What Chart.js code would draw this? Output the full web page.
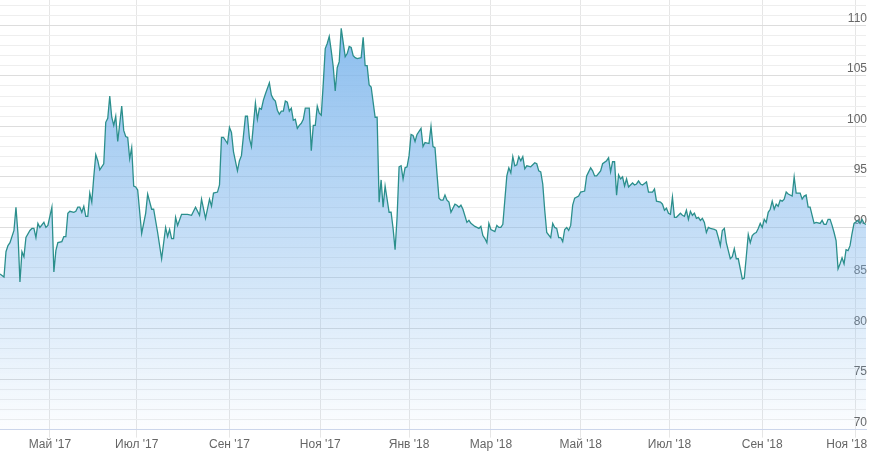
<!DOCTYPE html>
<html>
<head>
<meta charset="utf-8">
<script src="https://cdn.jsdelivr.net/npm/chart.js@4.4.1/dist/chart.umd.min.js"></script>
<style>
  html, body { margin: 0; padding: 0; background: #ffffff; }
  #wrap { width: 881px; height: 454px; position: relative; }
</style>
</head>
<body>
<div id="wrap"><canvas id="c"></canvas></div>
<script>
// trading-session index since the start of the window
const sessions = [0,2,3,4,5,7,8,9,10,11,12,13,15,16,17,18,19,20,22,23,24,26,27,28,29,31,32,33,34,35,37,38,39,40,41,42,43,44,45,46,47,48,49,50,52,53,54,55,56,57,58,59,61,62,63,64,65,66,67,68,69,71,73,74,76,77,79,81,83,84,85,86,87,88,89,91,94,96,98,100,101,103,105,106,107,109,110,111,112,114,115,116,117,119,120,121,123,124,125,126,128,129,130,131,132,133,135,136,137,138,139,140,141,142,143,144,145,146,147,148,149,150,151,152,153,155,156,157,158,159,160,161,162,163,164,165,166,167,168,169,170,171,173,174,175,176,177,178,179,181,182,183,184,185,186,188,189,190,191,192,193,195,196,197,198,199,200,201,202,203,204,205,206,207,208,209,211,212,213,215,216,217,218,219,220,221,222,223,224,225,226,228,229,230,231,232,234,235,236,238,239,240,241,242,243,244,245,246,248,249,250,251,252,254,255,256,257,258,259,260,261,262,263,264,266,268,269,270,271,272,273,274,276,277,278,279,280,281,282,283,284,285,286,287,288,290,291,293,294,295,296,297,298,299,301,302,304,305,306,307,308,309,310,311,312,313,314,315,317,318,319,320,321,322,324,325,327,328,329,331,332,333,334,335,336,337,338,339,341,342,343,344,345,346,347,348,349,350,351,352,353,354,355,356,358,359,360,361,362,363,364,365,366,367,368,369,370,372,373,374,375,376,377,378,379,380,381,382,383,384,385,386,387,388,389,390,391,392,393,394,395,397,398,399,400,401,402,403,404,405,406,407,408,409,411,412,413,414,415,416,417,418,419,420,421,422,423,424,425,426,427,428,430,431,432,433,434];
const prices = [85.4,85.1,87.6,88.2,88.5,89.7,92.0,89.4,84.6,87.6,87.1,89.0,89.7,89.9,89.9,89.0,90.4,90.0,90.5,90.0,90.2,92.0,85.6,87.7,88.5,88.6,89.1,89.1,91.4,91.6,91.5,91.6,92.0,92.0,91.5,92.1,91.1,91.1,93.4,92.5,95.0,97.2,96.6,95.7,96.3,100.4,100.8,103.0,100.9,100.1,101.0,98.5,102.0,99.6,99.0,98.9,96.8,97.9,94.1,94.0,93.7,89.4,91.4,93.3,91.8,91.8,89.5,86.9,90.0,89.1,89.8,88.9,88.9,91.0,90.2,91.3,91.3,91.2,92.0,91.2,92.8,90.9,92.8,92.1,93.4,93.5,94.2,98.9,98.9,98.3,99.9,99.4,97.5,95.6,96.6,97.1,101.0,101.0,98.8,98.0,102.3,100.7,101.8,101.7,102.6,103.2,104.3,103.1,102.7,102.5,101.6,101.2,101.5,101.5,102.5,102.4,101.5,101.8,100.6,100.7,99.8,100.1,100.3,100.7,101.8,101.8,97.6,100.1,100.1,102.0,101.3,101.1,104.2,107.7,108.2,108.9,107.5,105.9,103.5,105.8,106.4,109.7,106.9,107.2,107.9,107.8,107.0,106.8,106.7,106.8,108.8,106.0,106.0,104.1,103.9,100.9,100.9,92.5,94.7,92.0,94.1,91.5,91.5,89.9,87.8,91.0,96.0,96.1,94.8,95.9,96.0,97.1,99.2,99.1,98.5,99.2,99.8,98.0,98.4,98.3,100.0,98.0,97.9,95.3,92.9,92.7,92.7,93.2,92.7,92.5,91.5,92.3,92.2,92.0,92.2,91.8,90.5,90.7,90.4,90.1,90.0,89.9,90.1,89.2,88.9,88.5,90.4,89.8,89.6,90.2,90.0,90.0,90.3,95.1,95.9,95.4,97.0,96.1,96.2,97.0,96.6,97.0,95.8,96.1,96.0,96.4,96.3,95.6,95.5,94.3,91.7,89.5,89.0,90.4,90.0,89.9,89.0,89.0,88.6,89.8,90.0,89.7,90.2,92.2,92.9,93.1,93.5,93.6,95.1,95.5,95.9,95.6,95.1,95.1,95.6,96.3,96.6,96.9,95.5,96.5,96.5,93.2,95.2,94.8,95.0,94.1,94.8,94.0,94.4,94.2,94.3,94.6,94.3,94.2,94.5,93.5,93.5,93.8,92.6,92.5,92.3,91.7,91.9,91.4,91.3,93.0,91.0,91.0,91.4,91.2,91.1,91.7,90.8,91.6,91.2,91.4,90.9,91.0,90.7,90.9,90.5,89.5,90.0,89.9,89.8,89.7,89.0,88.2,89.7,89.9,88.5,87.7,86.9,87.1,87.9,86.9,86.9,84.9,85.0,87.1,89.3,88.5,89.2,89.4,89.5,89.9,90.4,90.0,90.8,90.5,91.5,91.8,92.6,91.8,92.3,92.1,92.7,92.6,92.8,93.5,93.3,93.1,95.0,93.4,93.4,93.4,92.8,93.1,93.2,92.0,92.0,91.2,90.4,90.5,90.4,90.7,90.3,90.3,90.8,90.8,90.2,89.5,88.7,85.9,86.4,87.0,86.4,87.8,87.7,88.2,89.4,90.4,90.7,90.4,90.8,90.4,90.3];

// month boundaries on the session axis, and their labels
const tickSessions = [25, 68.5, 115, 160.5, 205, 246, 291, 335.5, 382, 428.5];
const tickLabels = ["Май '17", "Июл '17", "Сен '17", "Ноя '17", "Янв '18", "Мар '18", "Май '18", "Июл '18", "Сен '18", "Ноя '18"];

// value axis
const yMin = 70, yMax = 112.5, yStep = 1, yLabelEvery = 5;

const points = sessions.map((s, i) => ({ x: s, y: prices[i] }));

function fillGradient(ctx) {
  const chart = ctx.chart;
  const area = chart.chartArea;
  if (!area) return 'rgba(124,181,236,0.5)';
  const g = chart.ctx.createLinearGradient(0, area.top, 0, area.bottom);
  g.addColorStop(0, 'rgba(124,181,236,0.95)');
  g.addColorStop(1, 'rgba(124,181,236,0.02)');
  return g;
}

const FONT = "'Liberation Sans', Arial, sans-serif";
const noPad = (scale) => { scale.paddingTop = 0; scale.paddingBottom = 0; scale.paddingLeft = 0; scale.paddingRight = 0; };

new Chart(document.getElementById('c'), {
  type: 'line',
  data: {
    datasets: [{
      data: points,
      borderColor: '#2b8f8c',
      borderWidth: 1.3,
      pointRadius: 0,
      pointHoverRadius: 0,
      tension: 0,
      fill: 'start',
      backgroundColor: fillGradient
    }]
  },
  options: {
    responsive: true,
    maintainAspectRatio: false,
    animation: false,
    layout: { padding: { left: 0, right: 13, top: 0, bottom: 2 } },
    plugins: { legend: { display: false }, tooltip: { enabled: false } },
    scales: {
      x: {
        type: 'linear',
        min: 0,
        max: 434,
        afterBuildTicks: (axis) => { axis.ticks = tickSessions.map(v => ({ value: v })); },
        afterFit: noPad,
        ticks: {
          autoSkip: false,
          maxRotation: 0,
          padding: 0,
          color: '#666666',
          font: { family: FONT, size: 12 },
          // the last label is kept inside the plot edge, as in the source
          callback: (v, i) => (i === tickLabels.length - 1 ? tickLabels[i] + '     ' : tickLabels[i])
        },
        grid: { color: '#e6e6e6', lineWidth: 1, tickLength: 8, drawTicks: true },
        border: { display: true, color: '#ccd6eb', width: 1 }
      },
      y: {
        position: 'right',
        min: yMin,
        max: yMax,
        afterBuildTicks: (axis) => {
          const t = [];
          for (let v = yMin; v <= yMax; v += yStep) t.push({ value: v });
          axis.ticks = t;
        },
        afterFit: noPad,
        ticks: {
          autoSkip: false,
          mirror: true,
          padding: 1,
          labelOffset: -7,
          color: '#666666',
          font: { family: FONT, size: 12 },
          callback: (v) => (v % yLabelEvery === 0 ? String(v) : '')
        },
        grid: {
          drawTicks: false,
          color: (ctx) => (ctx.tick && ctx.tick.value % yLabelEvery === 0 ? '#dddddd' : '#eeeeee'),
          lineWidth: 1
        },
        border: { display: false }
      }
    }
  }
});
</script>
</body>
</html>
